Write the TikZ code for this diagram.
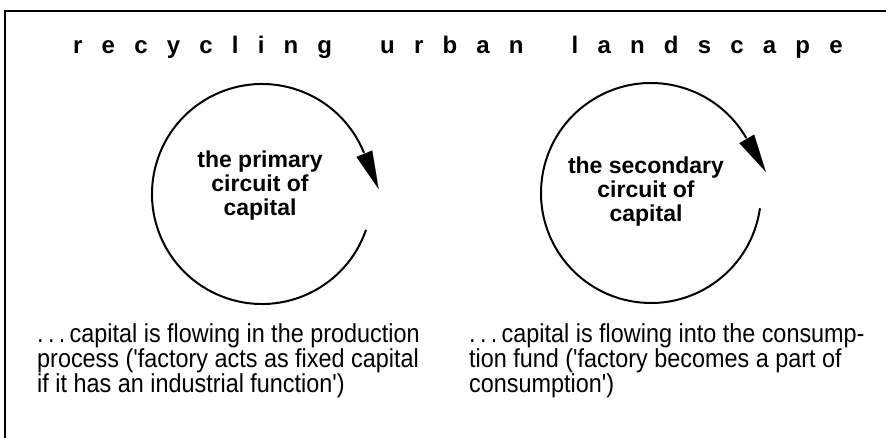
\documentclass[tikz,border=0pt]{standalone}
\usepackage{fontspec}
\setmainfont{Liberation Sans}
\newfontfamily\narrowfont[FakeStretch=0.9]{Liberation Sans}
\usetikzlibrary{arrows.meta}

\tikzset{
  frame/.style={line width=2.2pt},
  circuit/.style={line width=2pt},
  circuithead/.style={line width=0.1pt, -{Triangle[length=38pt,width=17pt]}},
  circuitlabel/.style={font=\fontsize{23}{24}\selectfont\bfseries, align=center, inner sep=0pt},
  note/.style={font=\narrowfont\fontsize{26}{25}\selectfont, align=left, anchor=base west, inner sep=0pt},
}

\begin{document}
\begin{tikzpicture}[x=1pt, y=1pt]
  \useasboundingbox (0,0) rectangle (886,437);
  \clip (0,0) rectangle (886,437);
  \draw[frame] (5,426) rectangle (900,-20);

  % title, spaced out
  \node[anchor=base west, inner sep=0pt, font=\fontsize{24}{24}\selectfont\bfseries] (title) at (73,383)
    {\addfontfeature{LetterSpace=80}recycling\hskip 48pt urban\hskip 48pt landscape};

  % the two circuits
  \coordinate (c1) at (262,243);
  \coordinate (c2) at (651,244);

  \draw[circuit] (c1) ++(-19:110) arc[start angle=-19, end angle=-338, radius=110] coordinate (h1);
  \draw[circuithead] (h1) -- ++(-68:39);
  \draw[circuit] (c2) ++(-8:110) arc[start angle=-8, end angle=-330, radius=110] coordinate (h2);
  \draw[circuithead] (h2) -- ++(-60:39);

  \node[circuitlabel] (primary) at (260,251) {the primary\\circuit of\\capital};
  \node[circuitlabel] (secondary) at (646,245) {the secondary\\circuit of\\capital};

  % notes under the circuits (base = last line)
  \node[note] (flowprod) at (37,45)
    {.\,.\,.\,capital is flowing in the production\\process ('factory acts as fixed capital\\if it has an industrial function')};
  \node[note] (flowcons) at (469,45)
    {.\,.\,.\,capital is flowing into the consump-\\tion fund ('factory becomes a part of\\consumption')};
\end{tikzpicture}
\end{document}
